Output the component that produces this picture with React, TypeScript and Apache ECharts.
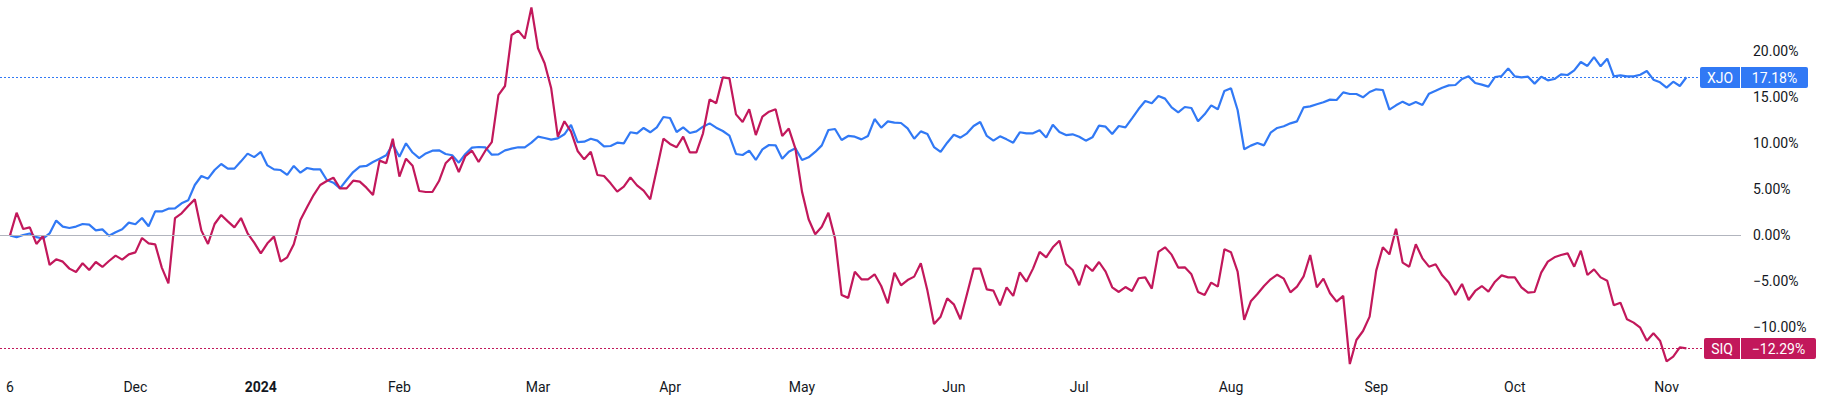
import React, { useEffect, useRef } from "react";
import * as echarts from "echarts";

// Trading-day index of each month label, and the label text
const monthTickIndex = [0, 19, 38, 59, 80, 100, 120, 143, 162, 185, 207, 228, 251];
const monthTickLabel = ["6", "Dec", "2024", "Feb", "Mar", "Apr", "May", "Jun", "Jul", "Aug", "Sep", "Oct", "Nov"];

const yTicks = [-10, -5, 0, 5, 10, 15, 20];

// % change since 6 Nov 2023, one value per trading day
const xjo = [
  0.0, -0.2, 0.04, 0.2, -0.2, -0.35, 0.2, 1.6, 0.95, 0.8,
  0.95, 1.23, 1.16, 0.54, 0.65, -0.04, 0.33, 0.65, 1.38, 1.2,
  1.88, 0.98, 2.6, 2.6, 2.9, 2.93, 3.48, 3.8, 5.47, 6.45,
  6.16, 7.1, 7.75, 7.25, 7.25, 8.04, 8.88, 8.5, 9.06, 7.6,
  7.17, 7.1, 6.56, 7.54, 6.81, 7.32, 7.17, 7.17, 6.01, 5.72,
  5.1, 6.01, 6.88, 7.46, 7.54, 7.97, 8.33, 8.7, 9.9, 8.55,
  10.0, 9.0, 8.4, 8.9, 9.2, 9.24, 8.84, 8.7, 7.9, 8.84,
  9.53, 9.6, 9.57, 8.77, 8.8, 9.24, 9.42, 9.57, 9.57, 10.07,
  10.72, 10.58, 10.4, 10.54, 10.98, 12.0, 10.14, 10.18, 10.5, 10.29,
  9.67, 9.71, 10.07, 10.0, 11.2, 11.09, 11.67, 11.2, 11.74, 12.86,
  12.75, 11.23, 11.74, 11.12, 11.3, 11.81, 12.17, 11.7, 11.34, 10.83,
  8.84, 8.73, 9.2, 8.19, 9.35, 9.82, 9.78, 8.33, 9.09, 9.46,
  8.19, 8.48, 9.06, 9.78, 11.45, 11.56, 10.36, 10.8, 10.72, 10.43,
  10.8, 12.64, 11.7, 12.39, 12.25, 12.21, 11.63, 10.5, 11.3, 11.01,
  9.6, 9.06, 10.07, 10.94, 10.62, 11.09, 11.88, 12.32, 10.8, 10.29,
  10.76, 10.43, 10.07, 11.2, 11.09, 11.09, 11.41, 10.62, 12.03, 11.23,
  10.9, 10.98, 10.72, 10.29, 10.65, 11.92, 11.81, 11.01, 11.88, 11.74,
  12.72, 13.73, 14.6, 14.35, 15.14, 14.86, 13.91, 13.37, 13.95, 13.84,
  12.39, 13.15, 14.13, 13.7, 15.69, 15.98, 13.62, 9.35, 9.75, 10.04,
  9.78, 11.16, 11.67, 11.85, 12.17, 12.39, 13.91, 14.02, 14.24, 14.46,
  14.75, 14.71, 15.54, 15.36, 15.36, 15.0, 15.58, 15.87, 15.8, 13.66,
  14.13, 14.53, 14.17, 14.49, 14.17, 15.4, 15.72, 16.05, 16.3, 16.34,
  16.99, 17.28, 16.56, 16.38, 16.16, 17.21, 17.32, 18.15, 17.28, 17.17,
  17.25, 16.49, 17.25, 16.85, 16.99, 17.5, 17.43, 17.93, 18.84, 18.41,
  19.38, 18.37, 19.2, 17.28, 17.39, 17.28, 17.28, 17.46, 17.86, 16.92,
  16.63, 16.05, 16.7, 16.23, 17.18,
];

const siq = [
  0, 2.46, 0.69, 0.87, -0.94, -0.07, -3.22, -2.61, -2.86, -3.62,
  -3.99, -3.04, -3.77, -2.9, -3.44, -2.79, -2.21, -2.64, -2.07, -1.85,
  -0.29, -0.87, -0.98, -3.51, -5.22, 1.88, 2.39, 3.19, 3.91, 0.51,
  -0.94, 1.23, 2.21, 1.52, 0.87, 1.88, 0.22, -0.8, -1.96, -0.87,
  -0.14, -2.86, -2.39, -0.98, 1.67, 3.04, 4.38, 5.47, 5.9, 6.27,
  5.1, 5.1, 5.94, 5.83, 5.18, 4.38, 8.12, 7.83, 10.5, 6.38,
  8.33, 7.57, 4.82, 4.71, 4.71, 5.9, 7.83, 8.55, 6.88, 8.62,
  9.2, 7.97, 9.17, 10.14, 15.25, 16.23, 21.78, 22.25, 21.38, 24.78,
  20.33, 18.7, 15.98, 10.72, 12.4, 11.27, 9.17, 8.26, 9.09, 6.56,
  6.45, 5.65, 4.75, 5.29, 6.3, 5.43, 4.86, 3.91, 7.17, 10.5,
  9.93, 9.57, 10.72, 9.02, 9.02, 11.09, 14.78, 14.35, 17.17, 17.07,
  13.15, 12.32, 13.7, 10.9, 12.9, 13.44, 13.7, 10.8, 11.6, 9.42,
  4.75, 1.74, 0.11, 0.94, 2.46, -0.33, -6.49, -6.8, -3.95, -4.78,
  -4.78, -4.24, -5.51, -7.39, -4.06, -5.43, -4.86, -4.49, -3.04, -6.01,
  -9.64, -8.84, -6.85, -7.5, -9.13, -6.38, -3.62, -3.62, -5.87, -6.01,
  -7.61, -5.65, -6.59, -4.02, -5.04, -3.62, -1.81, -2.39, -1.3, -0.58,
  -3.12, -3.77, -5.43, -3.22, -3.88, -2.9, -3.95, -5.65, -6.16, -5.62,
  -6.05, -4.67, -4.57, -5.8, -1.81, -1.3, -2.1, -3.51, -3.48, -4.24,
  -6.16, -6.49, -5.14, -5.58, -1.52, -1.85, -3.95, -9.2, -7.17, -6.38,
  -5.51, -4.78, -4.28, -4.71, -6.2, -5.58, -4.46, -2.14, -5.65, -4.71,
  -6.3, -7.21, -6.59, -13.99, -11.38, -10.4, -8.84, -3.84, -1.3, -2.07,
  0.72, -2.97, -3.41, -0.98, -2.5, -3.41, -3.15, -4.35, -5.14, -6.49,
  -5.29, -7.03, -6.05, -5.51, -6.12, -5.04, -4.35, -4.57, -4.57, -5.65,
  -6.23, -6.16, -4.06, -2.86, -2.39, -2.14, -1.96, -3.41, -1.67, -4.31,
  -3.7, -4.57, -4.93, -7.61, -7.32, -9.13, -9.49, -10.04, -11.45, -10.65,
  -11.45, -13.7, -13.19, -12.17, -12.29,
];

const XJO_COLOR = "#3179f5";
const SIQ_COLOR = "#c2185b";
const TEXT_COLOR = "#131722";
const FONT = "Roboto, 'Noto Sans', sans-serif";

const fmtPct = (v: number) => (v < 0 ? "\u2212" : "") + Math.abs(v).toFixed(2) + "%";

export default function App() {
  const ref = useRef<HTMLDivElement>(null);

  useEffect(() => {
    if (!ref.current) return;
    const chart = echarts.init(ref.current, null, { renderer: "svg" });
    const lastX = xjo[xjo.length - 1];
    const lastS = siq[siq.length - 1];
    const labelMap: Record<number, string> = {};
    monthTickIndex.forEach((idx, k) => (labelMap[idx] = monthTickLabel[k]));

    chart.setOption({
      animation: false,
      grid: { left: 0, right: 85, top: 0, bottom: 43, containLabel: false },
      xAxis: {
        type: "value",
        min: -1.515,
        max: 262.27,
        axisLine: { show: false },
        axisTick: { show: false },
        splitLine: { show: false },
        axisLabel: {
          customValues: monthTickIndex,
          margin: 10,
          color: TEXT_COLOR,
          fontSize: 14,
          fontFamily: FONT,
          formatter: (v: number) => {
            const t = labelMap[v] ?? "";
            return t === "2024" ? "{b|" + t + "}" : t;
          },
          rich: {
            b: { fontWeight: "bold", fontSize: 14, fontFamily: FONT, color: TEXT_COLOR },
          },
        },
      },
      yAxis: {
        type: "value",
        position: "right",
        min: -14.64,
        max: 25.58,
        axisLine: { show: false },
        axisTick: { show: false },
        splitLine: { show: false },
        axisLabel: {
          customValues: yTicks,
          margin: 12,
          align: "left",
          color: TEXT_COLOR,
          fontSize: 14,
          fontFamily: FONT,
          formatter: (v: number) => fmtPct(v),
        },
      },
      series: [
        {
          name: "XJO",
          type: "line",
          data: xjo.map((v, i) => [i, v]),
          showSymbol: false,
          symbol: "none",
          lineStyle: { color: XJO_COLOR, width: 2.2 },
          itemStyle: { color: XJO_COLOR },
          z: 2,
          markLine: {
            silent: true,
            symbol: ["none", "none"],
            label: { show: false },
            lineStyle: { color: "#b2b5be", type: "solid", width: 1 },
            data: [{ yAxis: 0 }],
          },
        },
        {
          name: "SIQ",
          type: "line",
          data: siq.map((v, i) => [i, v]),
          showSymbol: false,
          symbol: "none",
          lineStyle: { color: SIQ_COLOR, width: 2.2 },
          itemStyle: { color: SIQ_COLOR },
          z: 3,
        },
      ],
    });

    const yX = Math.round(chart.convertToPixel({ yAxisIndex: 0 }, lastX) as number) + 0.5;
    const yS = Math.round(chart.convertToPixel({ yAxisIndex: 0 }, lastS) as number) + 0.5;
    const H = 21;
    const dotted = (y: number, x2: number, color: string) => ({
      type: "line",
      z: 1,
      silent: true,
      shape: { x1: 0, y1: y, x2, y2: y },
      style: { stroke: color, lineWidth: 1, lineDash: [2, 2] },
    });
    const box = (y: number, name: string, value: string, color: string, lx: number, lw: number, rw: number) => {
      const rx = lx + lw + 1;
      return [
        { type: "rect", shape: { x: lx, y: y - H / 2, width: lw, height: H, r: [2, 0, 0, 2] }, style: { fill: color }, z: 100 },
        { type: "rect", shape: { x: rx, y: y - H / 2, width: rw, height: H, r: [0, 2, 2, 0] }, style: { fill: color }, z: 100 },
        {
          type: "text",
          x: lx + lw / 2,
          y,
          z: 101,
          style: { text: name, fill: "#ffffff", font: "14px " + FONT, align: "center", verticalAlign: "middle" },
        },
        {
          type: "text",
          x: rx + rw / 2,
          y,
          z: 101,
          style: { text: value, fill: "#ffffff", font: "14px " + FONT, align: "center", verticalAlign: "middle" },
        },
      ];
    };
    chart.setOption({
      graphic: [
        dotted(yX, 1700, XJO_COLOR),
        dotted(yS, 1704, SIQ_COLOR),
        ...box(yX, "XJO", fmtPct(lastX), XJO_COLOR, 1700, 40, 67),
        ...box(yS, "SIQ", fmtPct(lastS), SIQ_COLOR, 1704, 36, 75),
      ],
    });

    return () => chart.dispose();
  }, []);

  return (
    <div
      ref={ref}
      style={{ position: "fixed", left: 0, top: 0, width: 1826, height: 413, background: "#ffffff" }}
    />
  );
}
